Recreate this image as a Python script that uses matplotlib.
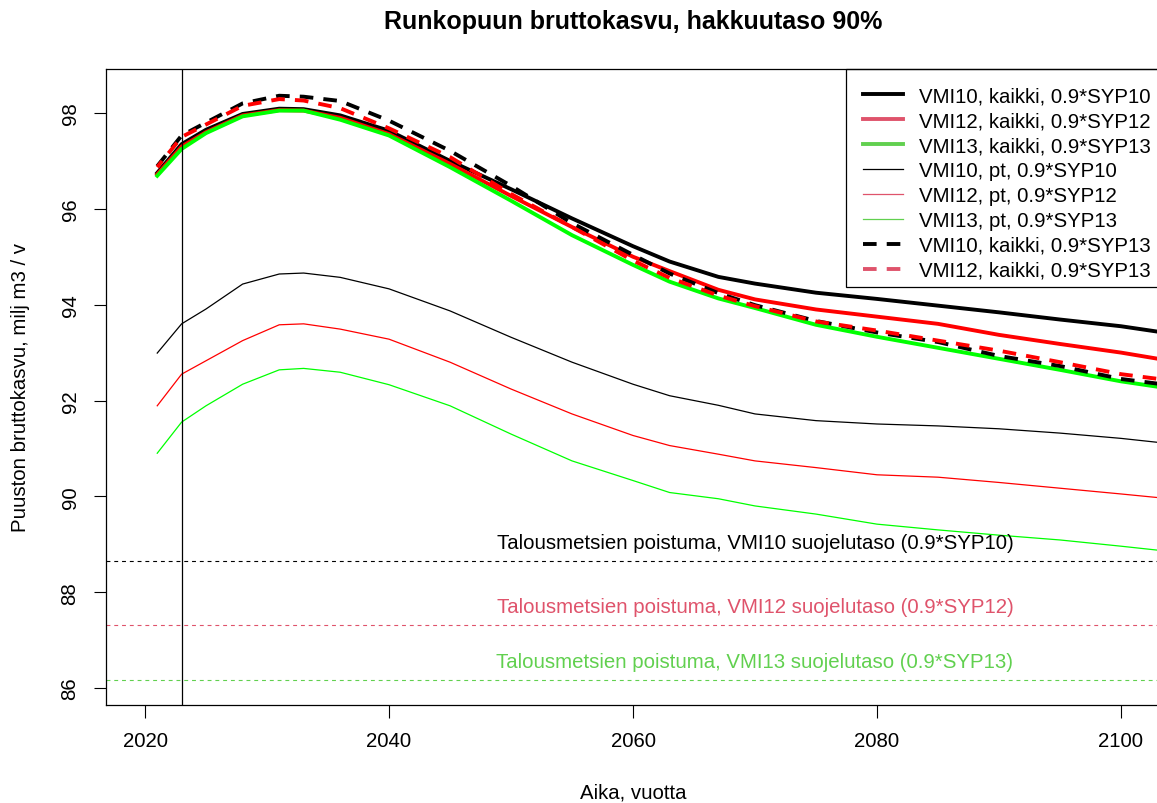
import matplotlib
matplotlib.use("Agg")
import matplotlib.pyplot as plt
from matplotlib.lines import Line2D
from matplotlib.patches import Rectangle

plt.rcParams['font.family'] = ['Liberation Sans', 'DejaVu Sans']

years = [2021, 2023, 2025, 2028, 2031, 2033, 2036, 2040, 2045, 2050, 2055,
         2060, 2063, 2067, 2070, 2075, 2080, 2085, 2090, 2095, 2100, 2104]

vmi10_kaikki = [96.75, 97.35, 97.65, 97.98, 98.09, 98.08, 97.95, 97.63, 97.00, 96.41, 95.80,
                95.22, 94.90, 94.58, 94.44, 94.25, 94.12, 93.98, 93.84, 93.69, 93.55, 93.40]
vmi12_kaikki = [96.72, 97.30, 97.60, 97.95, 98.06, 98.05, 97.90, 97.56, 96.94, 96.27, 95.62,
                95.00, 94.70, 94.31, 94.11, 93.90, 93.75, 93.60, 93.37, 93.18, 93.00, 92.83]
vmi13_kaikki = [96.69, 97.25, 97.58, 97.93, 98.05, 98.05, 97.86, 97.53, 96.87, 96.17, 95.45,
                94.83, 94.48, 94.13, 93.93, 93.58, 93.33, 93.10, 92.87, 92.64, 92.40, 92.25]
vmi10_pt = [92.99, 93.60, 93.91, 94.43, 94.64, 94.66, 94.57, 94.33, 93.87, 93.32, 92.80,
            92.34, 92.10, 91.90, 91.72, 91.58, 91.51, 91.47, 91.41, 91.32, 91.21, 91.10]
vmi12_pt = [91.89, 92.55, 92.83, 93.25, 93.58, 93.60, 93.49, 93.28, 92.80, 92.24, 91.72,
            91.27, 91.06, 90.88, 90.74, 90.60, 90.45, 90.40, 90.29, 90.17, 90.05, 89.95]
vmi13_pt = [90.90, 91.55, 91.89, 92.34, 92.64, 92.67, 92.59, 92.33, 91.89, 91.30, 90.74,
            90.33, 90.08, 89.95, 89.80, 89.63, 89.42, 89.30, 89.19, 89.09, 88.96, 88.85]
vmi10_kaikki_syp13 = [96.89, 97.53, 97.80, 98.20, 98.36, 98.34, 98.25, 97.84, 97.21, 96.48, 95.70,
                      95.04, 94.65, 94.24, 93.99, 93.66, 93.42, 93.22, 92.93, 92.72, 92.45, 92.32]
vmi12_kaikki_syp13 = [96.87, 97.50, 97.76, 98.15, 98.29, 98.26, 98.10, 97.68, 97.08, 96.31, 95.62,
                      94.92, 94.56, 94.19, 93.97, 93.65, 93.46, 93.25, 93.04, 92.80, 92.55, 92.42]

poistuma = [88.65, 87.32, 86.17]
poistuma_labels = ["Talousmetsien poistuma, VMI10 suojelutaso (0.9*SYP10)",
                   "Talousmetsien poistuma, VMI12 suojelutaso (0.9*SYP12)",
                   "Talousmetsien poistuma, VMI13 suojelutaso (0.9*SYP13)"]
label_year = 2070
label_offset = 0.39
vline_year = 2023

legend_labels = ["VMI10, kaikki, 0.9*SYP10", "VMI12, kaikki, 0.9*SYP12",
                 "VMI13, kaikki, 0.9*SYP13", "VMI10, pt, 0.9*SYP10",
                 "VMI12, pt, 0.9*SYP12", "VMI13, pt, 0.9*SYP13",
                 "VMI10, kaikki, 0.9*SYP13", "VMI12, kaikki, 0.9*SYP13"]

RED = "#FF0000"
GREEN = "#00FF00"
PRED = "#DF536B"
PGREEN = "#61D04F"
FS = 14.7

W, H = 1157, 804
fig = plt.figure(figsize=(W / 100, H / 100), dpi=100)
ax_w = 1160 - 106
ax_h = 706 - 70
ax = fig.add_axes([106 / W, 1 - 706 / H, ax_w / W, ax_h / H])

thick = 2.8
thin = 0.9
dash = (3.5, 2.6)

ax.plot(years, vmi10_pt, color="black", lw=thin)
ax.plot(years, vmi12_pt, color=RED, lw=thin)
ax.plot(years, vmi13_pt, color=GREEN, lw=thin)
ax.plot(years, vmi10_kaikki, color="black", lw=thick)
ax.plot(years, vmi12_kaikki, color=RED, lw=thick)
ax.plot(years, vmi13_kaikki, color=GREEN, lw=thick)
ax.plot(years, vmi10_kaikki_syp13, color="black", lw=thick, ls=(0, dash))
ax.plot(years, vmi12_kaikki_syp13, color=RED, lw=thick, ls=(1.5, dash))

hcols = ["black", PRED, PGREEN]
for h, lab, c in zip(poistuma, poistuma_labels, hcols):
    ax.axhline(h, color=c, lw=0.8, ls=(0, (3.5, 3.5)))
    ax.text(label_year, h + label_offset, lab, color=c, fontsize=FS,
            ha="center", va="center")

ax.axvline(vline_year, color="black", lw=0.9)

ax.set_xlim(2016.8, 2103.2)
ax.set_ylim(85.646, 98.918)
ax.set_xticks([2020, 2040, 2060, 2080, 2100])
ax.set_yticks([86, 88, 90, 92, 94, 96, 98])
ax.tick_params(axis="both", direction="out", length=9, width=0.8, labelsize=FS)
ax.tick_params(axis="x", pad=10)
ax.tick_params(axis="y", pad=10)
for lbl in ax.get_yticklabels():
    lbl.set_rotation(90)
    lbl.set_va("center")
for s in ax.spines.values():
    s.set_linewidth(0.9)

ax.set_xlabel("Aika, vuotta", fontsize=FS, labelpad=23)
ax.set_ylabel("Puuston bruttokasvu, milj m3 / v", fontsize=FS, labelpad=22)
fig.text(633 / W, 1 - 22 / H, "Runkopuun bruttokasvu, hakkuutaso 90%",
         ha="center", va="center", fontsize=18, fontweight="bold")

handles = [
    Line2D([], [], color="black", lw=thick),
    Line2D([], [], color=PRED, lw=thick),
    Line2D([], [], color=PGREEN, lw=thick),
    Line2D([], [], color="black", lw=thin),
    Line2D([], [], color=PRED, lw=thin),
    Line2D([], [], color=PGREEN, lw=thin),
    Line2D([], [], color="black", lw=thick, ls=(0, dash)),
    Line2D([], [], color=PRED, lw=thick, ls=(0, dash)),
]
# legend box (R-style frame, top-right corner)
ax.add_patch(Rectangle(((846 - 106) / ax_w, (706 - 288) / ax_h),
                       (1170 - 846) / ax_w, (288 - 70) / ax_h,
                       transform=ax.transAxes, facecolor="white",
                       edgecolor="black", lw=0.9, zorder=4, clip_on=False))
leg = ax.legend(handles, legend_labels, loc="upper right", fontsize=FS,
                bbox_to_anchor=(1 + 7 / ax_w, 1.0 - 1 / ax_h),
                frameon=False, borderaxespad=0,
                handlelength=1.96, handletextpad=0.78, labelspacing=0.29,
                borderpad=0.8)
leg.set_zorder(5)
for s in ax.spines.values():
    s.set_zorder(6)

fig.savefig("out.png", dpi=100)
